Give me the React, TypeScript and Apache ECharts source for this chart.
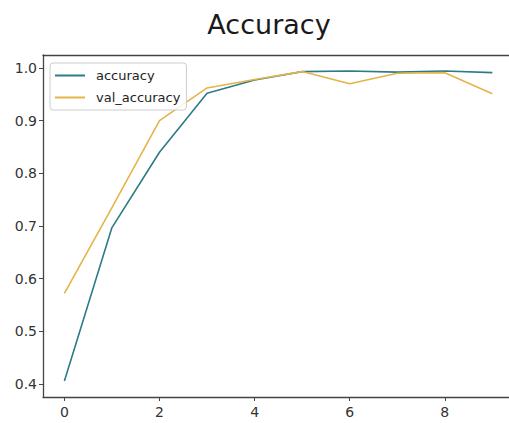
import React, { useEffect, useRef } from "react";
import * as echarts from "echarts";

const epochs = [0, 1, 2, 3, 4, 5, 6, 7, 8, 9];
const accuracy = [0.406, 0.697, 0.84, 0.952, 0.977, 0.993, 0.994, 0.992, 0.994, 0.991];
const valAccuracy = [0.572, 0.735, 0.9, 0.962, 0.978, 0.993, 0.970, 0.990, 0.991, 0.951];
const xTicks = [0, 2, 4, 6, 8];
const yTicks = [0.4, 0.5, 0.6, 0.7, 0.8, 0.9, 1.0];

const TEAL = "#2c7b86";
const GOLD = "#e4b44a";
const FONT = "DejaVu Sans";

export default function App() {
  const ref = useRef<HTMLDivElement>(null);
  useEffect(() => {
    document.body.style.margin = "0";
    const chart = echarts.init(ref.current!, null, { renderer: "svg" });
    chart.setOption({
      animation: false,
      backgroundColor: "#ffffff",
      graphic: [
        {
          type: "text",
          style: {
            text: "Accuracy",
            x: 269,
            y: 24,
            fontFamily: FONT,
            fontSize: 27,
            fill: "#1a1a1a",
            textAlign: "center",
            textVerticalAlign: "middle",
          },
        },
      ],
      grid: {
        left: 43,
        top: 55,
        right: 0,
        height: 342,
        show: false,
      },
      legend: {
        left: 50,
        top: 63,
        orient: "vertical",
        icon: "rect",
        itemWidth: 30,
        itemHeight: 2,
        itemGap: 9,
        padding: [6, 6, 6, 5],
        borderColor: "#cccccc",
        borderWidth: 1,
        borderRadius: 3,
        backgroundColor: "rgba(255,255,255,0.85)",
        textStyle: { fontFamily: FONT, fontSize: 13, color: "#222", padding: [0, 0, 0, 6] },
        data: ["accuracy", "val_accuracy"],
      },
      xAxis: [
        {
          type: "value",
          position: "bottom",
          min: -0.45,
          max: 9.35,
          splitLine: { show: false },
          axisLine: { show: true, onZero: false, lineStyle: { color: "#444", width: 1.3 } },
          axisTick: { show: true, length: 4, lineStyle: { color: "#444" }, customValues: xTicks },
          axisLabel: {
            customValues: xTicks,
            fontFamily: FONT,
            fontSize: 14,
            color: "#333",
            margin: 8,
          },
        },
        {
          type: "value",
          position: "top",
          min: -0.45,
          max: 9.35,
          splitLine: { show: false },
          axisLine: { show: true, onZero: false, lineStyle: { color: "#444", width: 1.3 } },
          axisTick: { show: false },
          axisLabel: { show: false },
        },
      ],
      yAxis: {
        type: "value",
        min: 0.3755,
        max: 1.0245,
        splitLine: { show: false },
        axisLine: { show: true, onZero: false, lineStyle: { color: "#444", width: 1.3 } },
        axisTick: { show: true, length: 4, lineStyle: { color: "#444" }, customValues: yTicks },
        axisLabel: {
          customValues: yTicks,
          formatter: (v: number) => v.toFixed(1),
          fontFamily: FONT,
          fontSize: 14,
          color: "#333",
          margin: 6,
        },
      },
      series: [
        {
          name: "accuracy",
          type: "line",
          xAxisIndex: 0,
          data: epochs.map((e, i) => [e, accuracy[i]]),
          symbol: "none",
          lineStyle: { color: TEAL, width: 1.6 },
          itemStyle: { color: TEAL },
          z: 2,
        },
        {
          name: "val_accuracy",
          type: "line",
          xAxisIndex: 0,
          data: epochs.map((e, i) => [e, valAccuracy[i]]),
          symbol: "none",
          lineStyle: { color: GOLD, width: 1.6 },
          itemStyle: { color: GOLD },
          z: 3,
        },
      ],
    });
    return () => chart.dispose();
  }, []);
  return <div ref={ref} style={{ width: 509, height: 423 }} />;
}
